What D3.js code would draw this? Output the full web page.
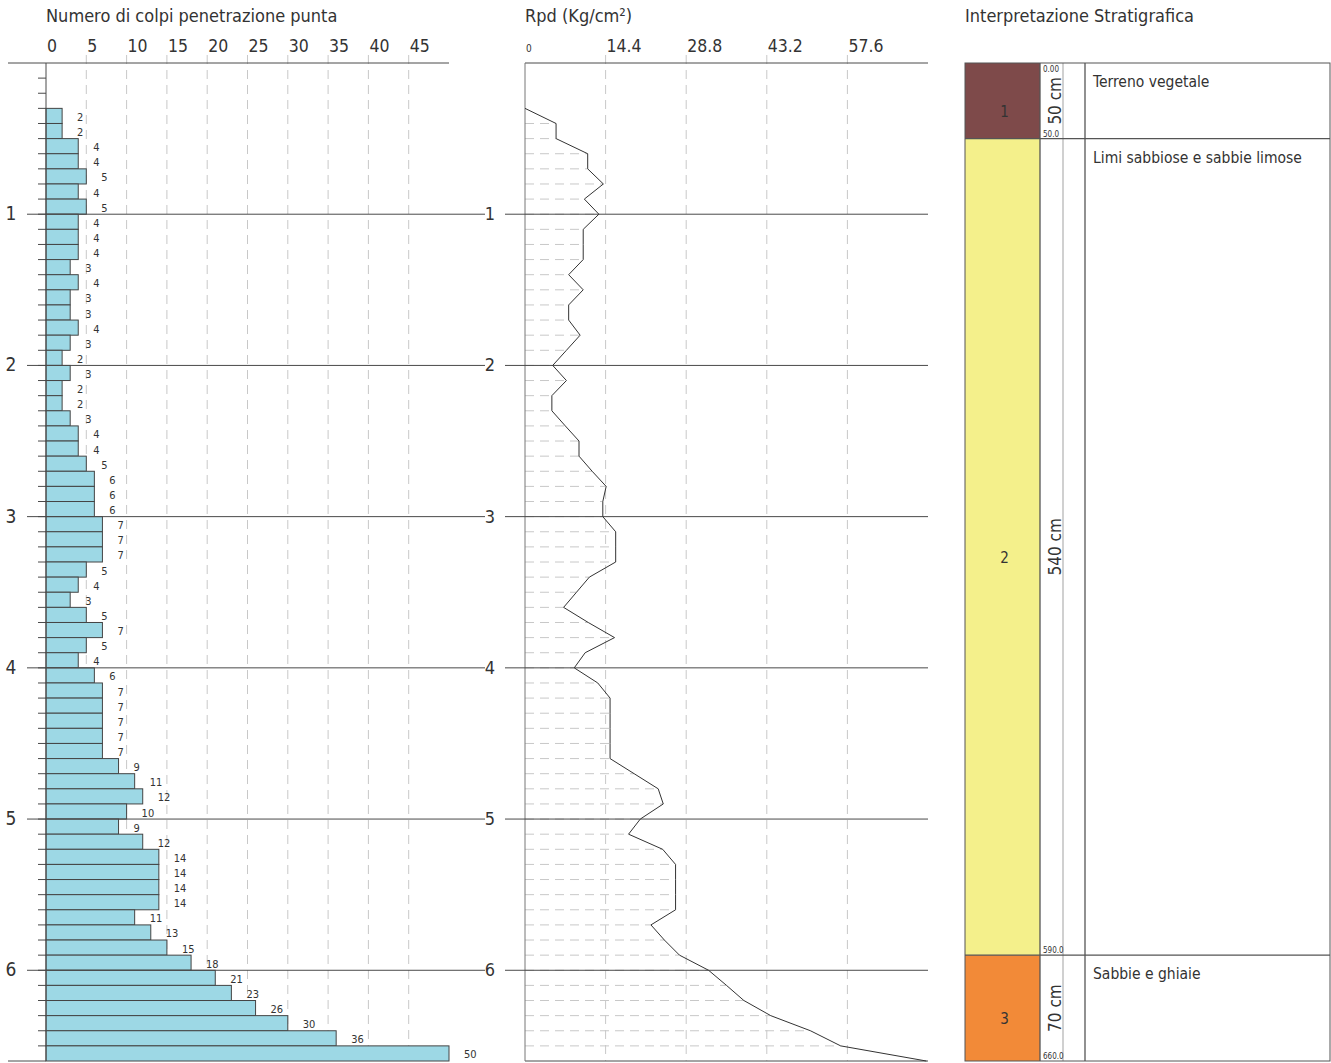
<!DOCTYPE html>
<html><head><meta charset="utf-8">
<script src="https://cdn.jsdelivr.net/npm/d3@7/dist/d3.min.js"></script>
<style>
html,body{margin:0;padding:0;background:#fff;}
svg text{font-family:"DejaVu Sans Condensed","DejaVu Sans",sans-serif;fill:#333;}
</style></head>
<body>
<svg id="chart" width="1331" height="1063"></svg>
<script>
// ---- data ----
const blowDepthTop = [0.3,0.4,0.5,0.6,0.7,0.8,0.9,1.0,1.1,1.2,1.3,1.4,1.5,1.6,1.7,1.8,1.9,2.0,2.1,2.2,2.3,2.4,2.5,2.6,2.7,2.8,2.9,3.0,3.1,3.2,3.3,3.4,3.5,3.6,3.7,3.8,3.9,4.0,4.1,4.2,4.3,4.4,4.5,4.6,4.7,4.8,4.9,5.0,5.1,5.2,5.3,5.4,5.5,5.6,5.7,5.8,5.9,6.0,6.1,6.2,6.3,6.4,6.5];
const blows = [2,2,4,4,5,4,5,4,4,4,3,4,3,3,4,3,2,3,2,2,3,4,4,5,6,6,6,7,7,7,5,4,3,5,7,5,4,6,7,7,7,7,7,9,11,12,10,9,12,14,14,14,14,11,13,15,18,21,23,26,30,36,50];
const rpdDepth = [0.3,0.4,0.5,0.6,0.7,0.8,0.9,1.0,1.1,1.2,1.3,1.4,1.5,1.6,1.7,1.8,1.9,2.0,2.1,2.2,2.3,2.4,2.5,2.6,2.7,2.8,2.9,3.0,3.1,3.2,3.3,3.4,3.5,3.6,3.7,3.8,3.9,4.0,4.1,4.2,4.3,4.4,4.5,4.6,4.7,4.8,4.9,5.0,5.1,5.2,5.3,5.4,5.5,5.6,5.7,5.8,5.9,6.0,6.1,6.2,6.3,6.4,6.5,6.6];
const rpd = [0,5.55,5.55,11.2,11.2,14.0,10.6,13.2,10.4,10.4,10.4,7.8,10.4,7.8,7.8,9.85,7.4,4.95,7.4,4.8,4.8,7.2,9.65,9.65,12.0,14.5,13.9,13.9,16.2,16.2,16.2,11.5,9.2,6.9,11.3,16.0,10.75,8.8,13.0,15.2,15.2,15.2,15.2,15.2,19.5,23.8,24.7,20.6,18.5,24.6,26.9,26.9,26.9,26.9,22.5,24.9,27.6,32.8,36.0,39.1,43.9,51.0,56.4,71.7];
const blowTicks = [0,5,10,15,20,25,30,35,40,45];
const rpdTicks = [0,14.4,28.8,43.2,57.6];
const meterTicks = [1,2,3,4,5,6];
const layerNum = ["1","2","3"];
const layerTop = [0,0.5,5.9];
const layerBottom = [0.5,5.9,6.6];
const layerThick = ["50 cm","540 cm","70 cm"];
const layerTopLabel = ["0.00","",""];
const layerBottomLabel = ["50.0","590.0","660.0"];
const layerDesc = ["Terreno vegetale","Limi sabbiose e sabbie limose","Sabbie e ghiaie"];
const layerColors = ["#7e4a4a","#f4f08b","#f28a38"];

// ---- scales ----
const svg = d3.select("#chart");
const y = d3.scaleLinear().domain([0,6.6]).range([63,1061]);
const xL = d3.scaleLinear().domain([0,50]).range([46,449]);
const xM = d3.scaleLinear().domain([0,72]).range([525,928]);
const dash = "9,6";
const gridCol = "#c8c8c8";
const lineCol = "#4a4a4a";

// ---------- LEFT CHART ----------
svg.append("text").attr("x",46).attr("y",22).attr("font-size",18).text("Numero di colpi penetrazione punta");
const gL = svg.append("g");
gL.selectAll(".gl").data(blowTicks.filter(d=>d>0)).join("line")
  .attr("x1",d=>xL(d)).attr("x2",d=>xL(d)).attr("y1",55).attr("y2",y(6.6))
  .attr("stroke",gridCol).attr("stroke-dasharray",dash);
gL.selectAll(".tl").data(blowTicks).join("text")
  .attr("x",d=>xL(d)+1).attr("y",52).attr("font-size",17.5).text(d=>d);
gL.append("line").attr("x1",8).attr("x2",xL(50)).attr("y1",y(0)).attr("y2",y(0)).attr("stroke",lineCol);
gL.append("line").attr("x1",8).attr("x2",xL(0)).attr("y1",y(6.6)).attr("y2",y(6.6)).attr("stroke",lineCol);
const minor = d3.range(1,66).map(i=>i/10);
gL.selectAll(".mt").data(minor).join("line")
  .attr("x1",38).attr("x2",xL(0)).attr("y1",d=>y(d)).attr("y2",d=>y(d)).attr("stroke",lineCol);
gL.selectAll(".bar").data(blows).join("rect")
  .attr("x",xL(0)).attr("y",(d,i)=>y(blowDepthTop[i]))
  .attr("width",d=>xL(d)-xL(0)).attr("height",(d,i)=>y(blowDepthTop[i]+0.1)-y(blowDepthTop[i]))
  .attr("fill","#9dd8e5").attr("stroke","#444").attr("stroke-width",1);
gL.selectAll(".bl").data(blows).join("text")
  .attr("x",d=>xL(d)+15).attr("y",(d,i)=>(y(blowDepthTop[i])+y(blowDepthTop[i]+0.1))/2+5)
  .attr("font-size",11).text(d=>d);
gL.append("line").attr("x1",xL(0)).attr("x2",xL(0)).attr("y1",y(0)).attr("y2",y(6.6)).attr("stroke",lineCol);
gL.selectAll(".ml").data(meterTicks).join("line")
  .attr("x1",27).attr("x2",485).attr("y1",d=>y(d)).attr("y2",d=>y(d)).attr("stroke",lineCol);
gL.selectAll(".mlab").data(meterTicks).join("text")
  .attr("x",11).attr("y",d=>y(d)+6).attr("text-anchor","middle").attr("font-size",19).text(d=>d);

// ---------- MIDDLE CHART ----------
svg.append("text").attr("x",525).attr("y",22).attr("font-size",18).text("Rpd (Kg/cm²)");
const gM = svg.append("g");
gM.selectAll(".gm").data(rpdTicks.filter(d=>d>0)).join("line")
  .attr("x1",d=>xM(d)).attr("x2",d=>xM(d)).attr("y1",55).attr("y2",y(6.6))
  .attr("stroke",gridCol).attr("stroke-dasharray",dash);
gM.selectAll(".tm").data(rpdTicks).join("text")
  .attr("x",d=>xM(d)+1).attr("y",52).attr("font-size",d=>d===0?10:17.5).text(d=>d);
const hd = rpdDepth.map((d,i)=>({d:d,v:rpd[i]})).filter(o=>o.v>0 && o.d<6.6);
gM.selectAll(".hd").data(hd).join("line")
  .attr("x1",xM(0)).attr("x2",o=>xM(o.v)).attr("y1",o=>y(o.d)).attr("y2",o=>y(o.d))
  .attr("stroke",gridCol).attr("stroke-dasharray",dash);
gM.append("line").attr("x1",xM(0)).attr("x2",xM(72)).attr("y1",y(0)).attr("y2",y(0)).attr("stroke",lineCol);
gM.append("line").attr("x1",xM(0)).attr("x2",xM(72)).attr("y1",y(6.6)).attr("y2",y(6.6)).attr("stroke",lineCol);
gM.append("line").attr("x1",xM(0)).attr("x2",xM(0)).attr("y1",y(0)).attr("y2",y(6.6)).attr("stroke","#777");
gM.selectAll(".ml").data(meterTicks).join("line")
  .attr("x1",505).attr("x2",xM(72)).attr("y1",d=>y(d)).attr("y2",d=>y(d)).attr("stroke",lineCol);
gM.selectAll(".mlab").data(meterTicks).join("text")
  .attr("x",490).attr("y",d=>y(d)+6).attr("text-anchor","middle").attr("font-size",18).text(d=>d);
const line = d3.line().x(d=>xM(d[1])).y(d=>y(d[0]));
gM.append("path").datum(rpdDepth.map((d,i)=>[d,rpd[i]])).attr("d",line)
  .attr("fill","none").attr("stroke","#333").attr("stroke-width",1);

// ---------- RIGHT PANEL ----------
svg.append("text").attr("x",965).attr("y",22).attr("font-size",18).text("Interpretazione Stratigrafica");
const gR = svg.append("g");
const xC0 = 965, xC1 = 1040, xG = 1063, xD = 1085, xE = 1330;
gR.selectAll(".lay").data(layerNum).join("rect")
  .attr("x",xC0).attr("y",(d,i)=>y(layerTop[i])).attr("width",xC1-xC0)
  .attr("height",(d,i)=>y(layerBottom[i])-y(layerTop[i])).attr("fill",(d,i)=>layerColors[i]);
gR.append("line").attr("x1",xG).attr("x2",xG).attr("y1",y(0)).attr("y2",y(6.6)).attr("stroke","#d0d0d0").attr("stroke-width",2);
gR.append("rect").attr("x",xC0).attr("y",y(0)).attr("width",xE-xC0).attr("height",y(6.6)-y(0))
  .attr("fill","none").attr("stroke","#555");
[xC1,xD].forEach(xx=>gR.append("line").attr("x1",xx).attr("x2",xx).attr("y1",y(0)).attr("y2",y(6.6)).attr("stroke","#555").attr("stroke-width",1.3));
gR.selectAll(".sep").data(layerBottom.slice(0,-1)).join("line")
  .attr("x1",xC0).attr("x2",xE).attr("y1",d=>y(d)).attr("y2",d=>y(d)).attr("stroke","#555").attr("stroke-width",1.3);
gR.selectAll(".num").data(layerNum).join("text")
  .attr("x",(xC0+xC1)/2+2).attr("y",(d,i)=>(y(layerTop[i])+y(layerBottom[i]))/2+16)
  .attr("text-anchor","middle").attr("font-size",15).text(d=>d);
gR.selectAll(".thk").data(layerThick).join("text")
  .attr("transform",(d,i)=>`translate(${xG-2},${(y(layerTop[i])+y(layerBottom[i]))/2}) rotate(-90)`)
  .attr("text-anchor","middle").attr("font-size",17).text(d=>d);
gR.selectAll(".tlab").data(layerTopLabel).join("text")
  .attr("x",xC1+3).attr("y",(d,i)=>y(layerTop[i])+9).attr("font-size",8).text(d=>d);
gR.selectAll(".blab").data(layerBottomLabel).join("text")
  .attr("x",xC1+3).attr("y",(d,i)=>y(layerBottom[i])-2).attr("font-size",8).text(d=>d);
gR.selectAll(".desc").data(layerDesc).join("text")
  .attr("x",xD+8).attr("y",(d,i)=>y(layerTop[i])+24).attr("font-size",15.5).text(d=>d);
</script>
</body></html>
